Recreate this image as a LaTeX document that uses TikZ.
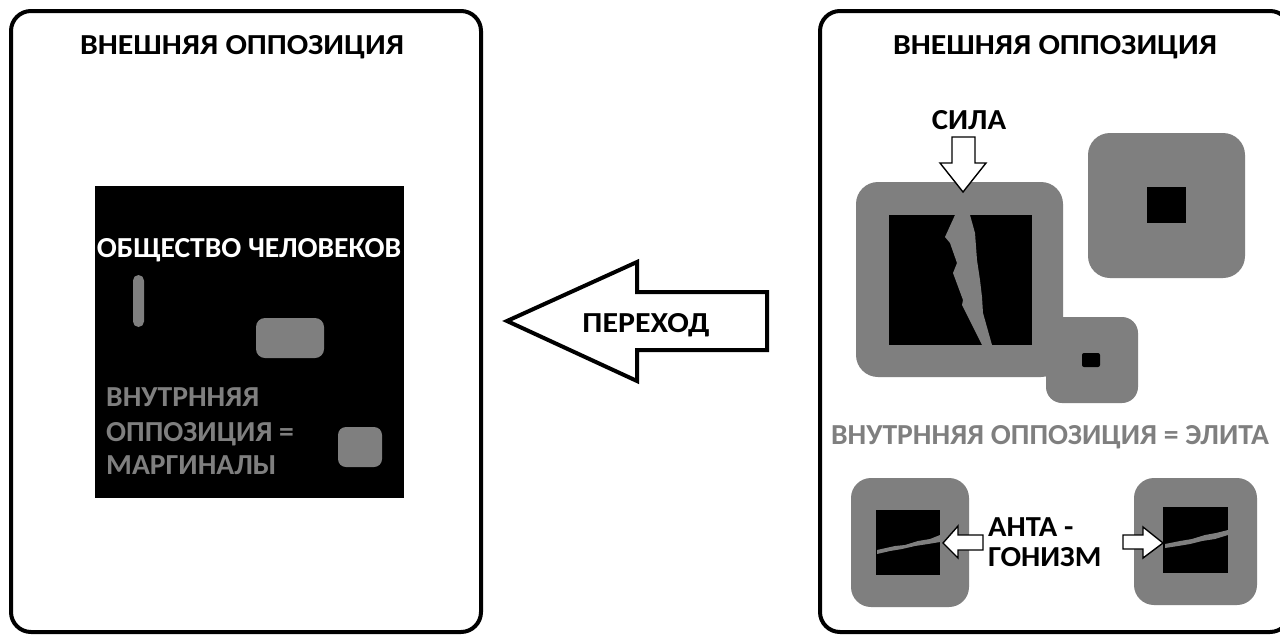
\documentclass[tikz,border=0pt]{standalone}
\usepackage{fontspec}
\setmainfont{Carlito}
\definecolor{boxgray}{RGB}{127,127,127}
\begin{document}
\begin{tikzpicture}[x=1pt,y=-1pt,
  panel/.style={draw=black,line width=4pt,rounded corners=20pt},
  gbox/.style={fill=boxgray,rounded corners=#1},
  gbox/.default=18pt,
  blk/.style={fill=black},
  blockarrow/.style={draw=black,fill=white,line width=1.4pt,line join=miter},
  bigarrow/.style={draw=black,fill=white,line width=4pt,line join=miter},
  lbl/.style={inner sep=0pt,font=\fontsize{29}{32}\selectfont\bfseries\addfontfeatures{FakeStretch=#1}},
  lbl/.default=1.02,
  crack/.style={fill=boxgray}]
\useasboundingbox (0,0) rectangle (1280,635);
\fill[white] (0,0) rectangle (1280,635);

% ---------- left panel ----------
\draw[panel] (11,11) rectangle (481,632);
\node[lbl=1.095,anchor=base] (ltitle) at (242,54) {ВНЕШНЯЯ ОППОЗИЦИЯ};
\fill[blk] (95,186) rectangle (404,498);
\node[lbl=1.02,anchor=base,text=white] (society) at (249,257) {ОБЩЕСТВО ЧЕЛОВЕКОВ};
\fill[gbox=5.5pt] (133,275) rectangle (144,327);
\fill[gbox=9pt] (256,318) rectangle (324,358);
\fill[gbox=8pt] (338,427) rectangle (382,467);
\node[lbl=1.02,anchor=base west,text=boxgray] (inner1) at (106,406) {ВНУТРННЯЯ};
\node[lbl=1.02,anchor=base west,text=boxgray] (inner2) at (106,441) {ОППОЗИЦИЯ =};
\node[lbl=1.02,anchor=base west,text=boxgray] (inner3) at (106,474) {МАРГИНАЛЫ};

% ---------- transition arrow ----------
\draw[bigarrow] (507,321) -- (637,262) -- (637,292) -- (767,292) -- (767,350) -- (637,350) -- (637,381) -- cycle;
\node[lbl=1.10,anchor=base] (perehod) at (646,332) {ПЕРЕХОД};

% ---------- right panel ----------
\draw[panel] (820,11) rectangle (1290,632);
\node[lbl=1.095,anchor=base] (rtitle) at (1055,54) {ВНЕШНЯЯ ОППОЗИЦИЯ};
\node[lbl=1.06,anchor=base] (sila) at (969,129) {СИЛА};

% gray blocks
\fill[gbox=16pt] (1046,317) rectangle (1138,403);
\fill[gbox=22pt] (856,182) rectangle (1063,377);
\fill[gbox=22pt] (1088,133) rectangle (1245,278);
\fill[blk] (889,215) rectangle (1032,345);
\fill[blk] (1147,187) rectangle (1186,223);
\fill[blk,rounded corners=2pt] (1082,353) rectangle (1100,367);
% crack in big block
\fill[crack] (955,215) -- (945,237) -- (950,243) -- (957,263) -- (953,273) -- (963,300) -- (962,305) -- (982,345)
  -- (992,345) -- (983,313) -- (982,297) -- (980,280) -- (977,260) -- (975,233) -- (970,215) -- cycle;
% force arrow
\draw[blockarrow] (952,137) -- (975,137) -- (975,163) -- (986,163) -- (963,192) -- (940,163) -- (952,163) -- cycle;

\node[lbl=1.02,anchor=base,text=boxgray] (elite) at (1050,444) {ВНУТРННЯЯ ОППОЗИЦИЯ = ЭЛИТА};

% bottom blocks
\fill[gbox=20pt] (851,478) rectangle (969,607);
\fill[blk] (876,510) rectangle (940,575);
\fill[crack] (877,550) -- (895,546) -- (905,545) -- (918,541) -- (930,539) -- (940,535) -- (940,542) -- (928,544) -- (915,546) -- (902,549) -- (890,551) -- (877,554) -- cycle;

\fill[gbox=20pt] (1134,478) rectangle (1257,605);
\fill[blk] (1163,507) rectangle (1228,573);
\fill[crack] (1165,544) -- (1180,541) -- (1192,539) -- (1205,535) -- (1216,533) -- (1228,530) -- (1228,535) -- (1215,539) -- (1202,541) -- (1190,544) -- (1178,546) -- (1165,548) -- cycle;

% antagonism arrows
\draw[blockarrow] (943,543) -- (958,526) -- (958,535) -- (983,535) -- (983,550) -- (958,550) -- (958,558) -- cycle;
\draw[blockarrow] (1163,543) -- (1143,527) -- (1143,535) -- (1123,535) -- (1123,549) -- (1143,549) -- (1143,558) -- cycle;
\node[lbl=1.05,anchor=base west] (anta) at (988,536) {АНТА -};
\node[lbl=1.05,anchor=base west] (gonizm) at (988,566) {ГОНИЗМ};
\end{tikzpicture}
\end{document}
